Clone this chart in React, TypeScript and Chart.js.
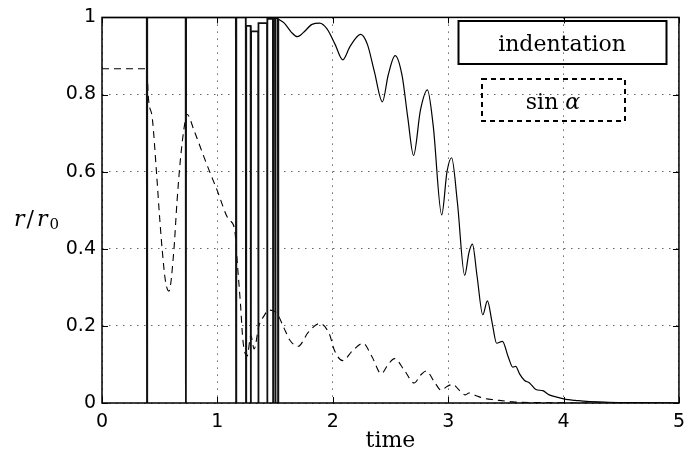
import React, { useEffect, useRef } from "react";
import { Chart, registerables } from "chart.js";

Chart.register(...registerables);

// ---- data ----
const xTicks = [0, 1, 2, 3, 4, 5];
const yTicks = [0, 0.2, 0.4, 0.6, 0.8, 1];

// indentation: plateaus near 1 with sharp drops to 0 at these times
const spikeTimes = [0.39, 0.727, 1.162, 1.248, 1.29, 1.355, 1.432, 1.483, 1.503, 1.526];
// level before each spike (last entry = level after the last spike)
const plateauLevels = [1, 1, 1, 1, 0.978, 0.964, 0.985, 0.996, 0.998, 0.998, 0.996];

// indentation: smooth decaying part
const indentTime = [
  1.526, 1.58, 1.64, 1.694, 1.75, 1.82, 1.887, 1.95, 2.02, 2.086, 2.15, 2.242, 2.3, 2.36, 2.43,
  2.48, 2.54, 2.6, 2.65, 2.7, 2.76, 2.82, 2.87, 2.944, 2.99, 3.03, 3.08, 3.143, 3.18, 3.21,
  3.25, 3.3, 3.34, 3.38, 3.42, 3.47, 3.52, 3.56, 3.585, 3.62, 3.66, 3.705, 3.76, 3.82, 3.876,
  3.96, 4.02, 4.1, 4.2, 4.39, 4.6, 5.0,
];
const indentValue = [
  0.996, 0.985, 0.962, 0.95, 0.962, 0.982, 0.985, 0.97, 0.93, 0.89, 0.925, 0.956, 0.93, 0.86, 0.781,
  0.85, 0.901, 0.85, 0.74, 0.642, 0.76, 0.812, 0.72, 0.488, 0.6, 0.636, 0.52, 0.331, 0.39, 0.412,
  0.33, 0.229, 0.265, 0.21, 0.155, 0.16, 0.12, 0.093, 0.095, 0.075, 0.059, 0.052, 0.035, 0.032, 0.021,
  0.014, 0.0095, 0.007, 0.004, 0.002, 0.001, 0.0,
];

// sin(alpha)
const sinTime = [
  0, 0.39, 0.4, 0.437, 0.472, 0.5, 0.523, 0.55, 0.58, 0.622, 0.65, 0.68, 0.716, 0.736, 0.8, 0.9,
  1.0, 1.1, 1.148, 1.176, 1.2, 1.222, 1.258, 1.29, 1.318, 1.36, 1.404, 1.447, 1.51, 1.575, 1.63,
  1.7, 1.787, 1.887, 1.97, 2.015, 2.086, 2.17, 2.262, 2.34, 2.42, 2.48, 2.535, 2.62, 2.705, 2.76,
  2.81, 2.88, 2.94, 2.99, 3.04, 3.1, 3.15, 3.18, 3.25, 3.31, 3.41, 3.56, 3.8, 4.2, 5.0,
];
const sinValue = [
  0.867, 0.867, 0.8, 0.736, 0.599, 0.479, 0.393, 0.316, 0.29, 0.393, 0.522, 0.633, 0.723, 0.749, 0.705, 0.625,
  0.55, 0.475, 0.453, 0.35, 0.257, 0.16, 0.122, 0.175, 0.14, 0.2, 0.226, 0.241, 0.235, 0.196, 0.162,
  0.147, 0.183, 0.206, 0.179, 0.136, 0.11, 0.135, 0.155, 0.12, 0.076, 0.1, 0.115, 0.085, 0.052, 0.072,
  0.083, 0.055, 0.033, 0.043, 0.048, 0.032, 0.021, 0.026, 0.018, 0.012, 0.008, 0.003, 0.001, 0, 0,
];

function buildSpikes() {
  const pts: { x: number; y: number }[] = [{ x: 0, y: plateauLevels[0] }];
  spikeTimes.forEach((t, i) => {
    pts.push({ x: t - 0.002, y: plateauLevels[i] });
    pts.push({ x: t, y: 0 });
    pts.push({ x: t + 0.002, y: plateauLevels[i + 1] });
  });
  return pts;
}

const framePlugin = {
  id: "matlabFrame",
  afterDraw(chart: any) {
    const { ctx, chartArea } = chart;
    const { left, right, top, bottom } = chartArea;
    const xs = chart.scales.x;
    const ys = chart.scales.y;
    ctx.save();
    // inward ticks
    ctx.strokeStyle = "#000";
    ctx.lineWidth = 1;
    ctx.beginPath();
    xTicks.forEach((v) => {
      const px = Math.round(xs.getPixelForValue(v)) + 0.5;
      ctx.moveTo(px, bottom);
      ctx.lineTo(px, bottom - 6);
      ctx.moveTo(px, top);
      ctx.lineTo(px, top + 6);
    });
    yTicks.forEach((v) => {
      const py = Math.round(ys.getPixelForValue(v)) + 0.5;
      ctx.moveTo(left, py);
      ctx.lineTo(left + 6, py);
      ctx.moveTo(right, py);
      ctx.lineTo(right - 6, py);
    });
    ctx.stroke();
    // frame
    ctx.lineWidth = 1.5;
    ctx.strokeRect(left, top, right - left, bottom - top);

    // y-axis label r/r0
    ctx.fillStyle = "#000";
    ctx.textBaseline = "alphabetic";
    ctx.textAlign = "left";
    ctx.font = "italic 22px 'DejaVu Serif'";
    let x = 14;
    const base = 226;
    ctx.fillText("r", x, base);
    x += ctx.measureText("r").width + 2;
    ctx.font = "22px 'DejaVu Serif'";
    ctx.fillText("/", x, base);
    x += ctx.measureText("/").width + 3;
    ctx.font = "italic 22px 'DejaVu Serif'";
    ctx.fillText("r", x, base);
    x += ctx.measureText("r").width + 2;
    ctx.font = "15px 'DejaVu Serif'";
    ctx.fillText("0", x, base + 3);

    // legend boxes
    ctx.lineWidth = 2;
    ctx.strokeRect(458.5, 21, 208, 43);
    ctx.setLineDash([5, 4]);
    ctx.strokeRect(482, 79, 143, 42);
    ctx.setLineDash([]);
    ctx.font = "22px 'DejaVu Serif'";
    ctx.textAlign = "center";
    ctx.fillText("indentation", 562, 51);
    ctx.textAlign = "left";
    const sinW = ctx.measureText("sin ").width;
    ctx.font = "italic 22px 'DejaVu Serif'";
    const aW = ctx.measureText("α").width;
    const sx = 553 - (sinW + aW) / 2;
    ctx.font = "22px 'DejaVu Serif'";
    ctx.fillText("sin ", sx, 109);
    ctx.font = "italic 22px 'DejaVu Serif'";
    ctx.fillText("α", sx + sinW, 109);
    ctx.restore();
  },
};

export default function App() {
  const canvasRef = useRef<HTMLCanvasElement | null>(null);

  useEffect(() => {
    document.body.style.margin = "0";
    const canvas = canvasRef.current;
    if (!canvas) return;
    const tickFont = { family: "'DejaVu Sans'", size: 19 };
    const chart = new Chart(canvas, {
      type: "line",
      data: {
        datasets: [
          {
            label: "indentation",
            data: buildSpikes(),
            borderColor: "#111",
            borderWidth: 1.8,
            pointRadius: 0,
            tension: 0,
            fill: false,
          },
          {
            label: "indentation (smooth)",
            data: indentTime.map((t, i) => ({ x: t, y: indentValue[i] })),
            borderColor: "#000",
            borderWidth: 1.2,
            pointRadius: 0,
            cubicInterpolationMode: "monotone",
            fill: false,
          },
          {
            label: "sin α",
            data: sinTime.map((t, i) => ({ x: t, y: sinValue[i] })),
            borderColor: "#000",
            borderWidth: 1.1,
            borderDash: [7, 5],
            pointRadius: 0,
            cubicInterpolationMode: "monotone",
            fill: false,
          },
        ],
      },
      options: {
        animation: false,
        responsive: false,
        maintainAspectRatio: false,
        layout: { padding: { top: 14, right: 5, left: 0, bottom: 0 } },
        plugins: { legend: { display: false }, tooltip: { enabled: false } },
        scales: {
          x: {
            type: "linear",
            min: 0,
            max: 5,
            afterBuildTicks: (s: any) => {
              s.ticks = xTicks.map((v) => ({ value: v }));
            },
            afterFit: (s: any) => {
              s.height = 52;
            },
            ticks: { font: tickFont, color: "#000", padding: 8, maxRotation: 0 },
            grid: { color: "rgba(0,0,0,0.6)", lineWidth: 1, drawTicks: false },
            border: { display: false, dash: [1.5, 5.5] },
            title: {
              display: true,
              text: "time",
              color: "#000",
              font: { family: "'DejaVu Serif'", size: 22 },
              padding: { top: 0, bottom: 1 },
            },
          },
          y: {
            type: "linear",
            min: 0,
            max: 1,
            afterBuildTicks: (s: any) => {
              s.ticks = yTicks.map((v) => ({ value: v }));
            },
            afterFit: (s: any) => {
              s.width = 102;
            },
            ticks: {
              font: tickFont,
              color: "#000",
              padding: 6,
              callback: (v: any) => String(Math.round(Number(v) * 10) / 10),
            },
            grid: { color: "rgba(0,0,0,0.6)", lineWidth: 1, drawTicks: false },
            border: { display: false, dash: [1.5, 5.5] },
          },
        },
      },
      plugins: [framePlugin],
    } as any);
    return () => chart.destroy();
  }, []);

  return (
    <div style={{ width: 693, height: 455 }}>
      <canvas ref={canvasRef} width={693} height={455} style={{ display: "block" }} />
    </div>
  );
}
